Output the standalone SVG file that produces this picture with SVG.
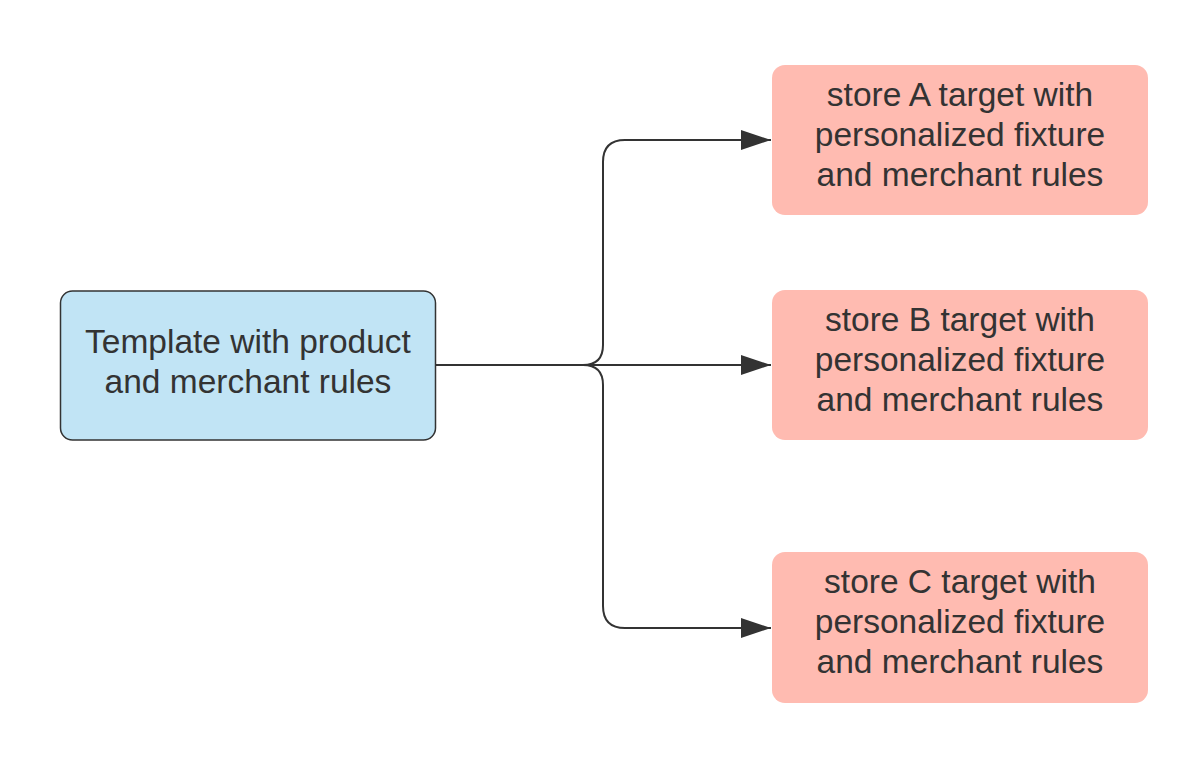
<svg xmlns="http://www.w3.org/2000/svg" width="1204" height="765" viewBox="0 0 1204 765">
<style>
.t{font-family:"Liberation Sans",Arial,sans-serif;font-size:33.5px;fill:#333333;text-anchor:middle}
.c{fill:none;stroke:#333333;stroke-width:2}
.s{fill:#ffbbb1}
</style>
<defs>
<marker id="ah" markerUnits="userSpaceOnUse" markerWidth="32" markerHeight="22" refX="30" refY="11" orient="auto">
<path d="M0,1 L30,11 L0,21 Z" fill="#333333"/>
</marker>
</defs>
<rect width="1204" height="765" fill="#ffffff"/>
<g id="connectors">
<path class="c" d="M436,365 H583 Q603,365 603,345 V162 Q603,140 625,140 H771" marker-end="url(#ah)"/>
<path class="c" d="M436,365 H771" stroke-width="1.5" marker-end="url(#ah)"/>
<path class="c" d="M436,365 H583 Q603,365 603,385 V606 Q603,628 625,628 H771" marker-end="url(#ah)"/>
</g>
<g id="template">
<rect x="60.5" y="291" width="375" height="149" rx="12" fill="#c1e4f5" stroke="#333333" stroke-width="1.5"/>
<text class="t" x="248" y="353">Template with product</text>
<text class="t" x="248" y="393">and merchant rules</text>
</g>
<g id="storeA">
<rect class="s" x="772" y="65" width="376" height="150" rx="13"/>
<text class="t" x="960" y="106">store A target with</text>
<text class="t" x="960" y="146">personalized fixture</text>
<text class="t" x="960" y="186">and merchant rules</text>
</g>
<g id="storeB">
<rect class="s" x="772" y="290" width="376" height="150" rx="13"/>
<text class="t" x="960" y="331">store B target with</text>
<text class="t" x="960" y="371">personalized fixture</text>
<text class="t" x="960" y="411">and merchant rules</text>
</g>
<g id="storeC">
<rect class="s" x="772" y="552" width="376" height="151" rx="13"/>
<text class="t" x="960" y="593">store C target with</text>
<text class="t" x="960" y="633">personalized fixture</text>
<text class="t" x="960" y="673">and merchant rules</text>
</g>
</svg>
